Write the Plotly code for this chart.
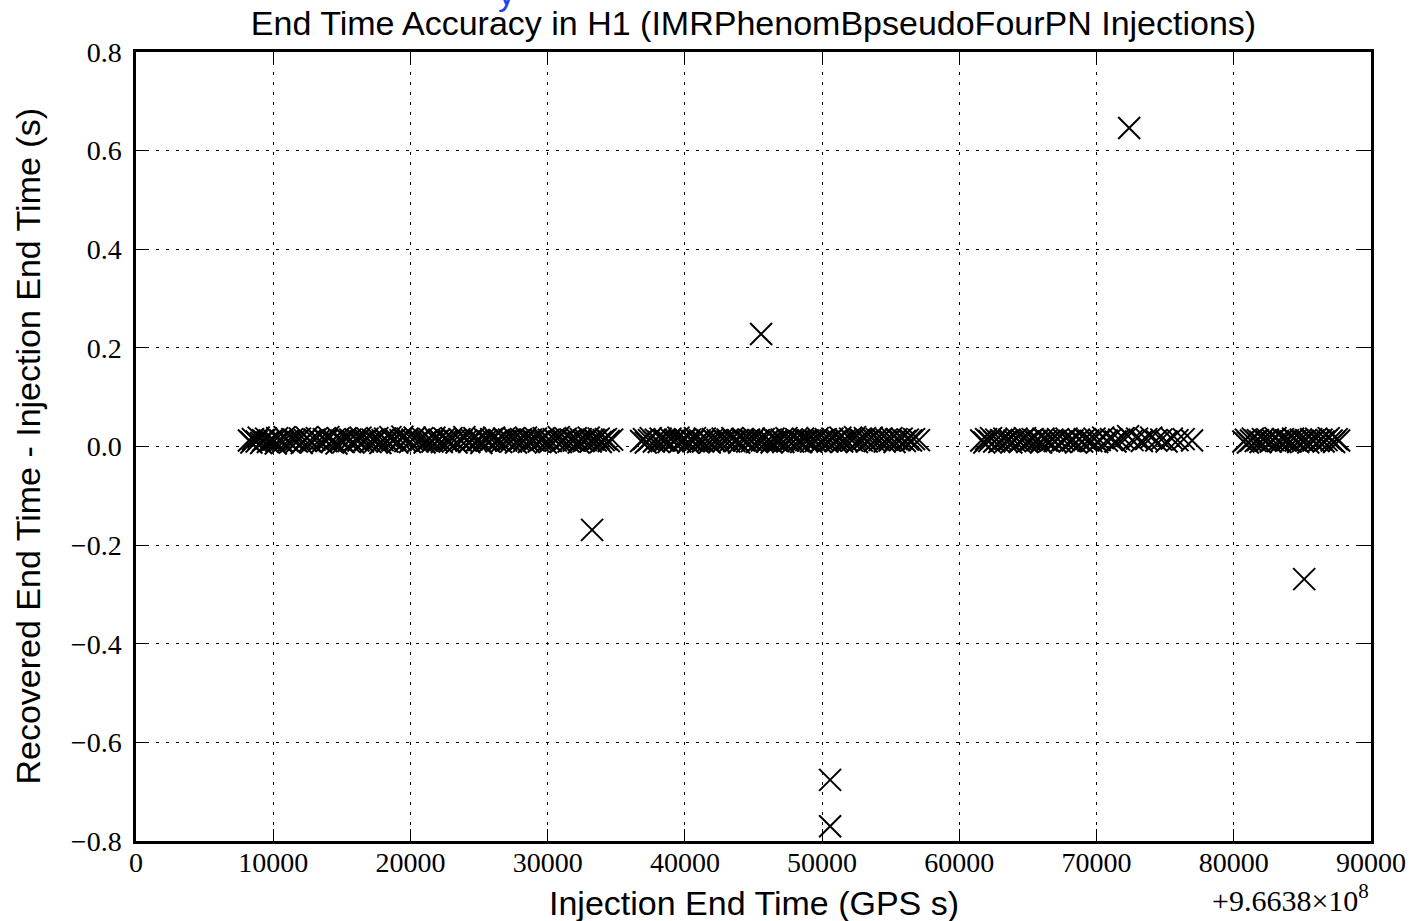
import plotly.graph_objects as go

GPS_OFFSET_LABEL = "+9.6638×10<sup>8</sup>"
TITLE = "End Time Accuracy in H1 (IMRPhenomBpseudoFourPN Injections)"
X_TITLE = "Injection End Time (GPS s)"
Y_TITLE = "Recovered End Time - Injection End Time (s)"

# Band of recovered injections (x in s after 9.6638e8, y = time difference in s)
band1_x = [
    8230, 8410, 8520, 8790, 8940, 9120, 9260, 9480, 9610, 9830,
    9990, 10180, 10290, 10520, 10700, 10830, 11060, 11210, 11390, 11580,
    11720, 11950, 12080, 12310, 12440, 12660, 12790, 13010, 13180, 13340,
    13530, 13690, 13880, 14020, 14250, 14390, 14610, 14740, 14960, 15130,
    15280, 15490, 15620, 15850, 15990, 16210, 16360, 16540, 16730, 16880,
    17090, 17240, 17460, 17590, 17810, 17970, 18150, 18320, 18540, 18690,
    18900, 19040, 19270, 19410, 19630, 19780, 19960, 20150, 20310, 20520,
    20680, 20870, 21030, 21240, 21380, 21600, 21750, 21940, 22110, 22290,
    22480, 22630, 22850, 22990, 23200, 23360, 23570, 23720, 23930, 24080,
    24290, 24440, 24660, 24800, 25020, 25170, 25380, 25530, 25740, 25890,
    26100, 26250, 26460, 26610, 26820, 26970, 27180, 27330, 27540, 27690,
    27900, 28060, 28270, 28420, 28630, 28780, 28990, 29140, 29350, 29510,
    29720, 29870, 30080, 30230, 30440, 30600, 30810, 30960, 31170, 31320,
    31530, 31690, 31900, 32050, 32260, 32410, 32620, 32780, 32990, 33140,
    33350, 33510, 33720, 33870, 34080, 34240, 34450, 34700,
]
band1_y = [
    0.012, 0.008, 0.015, 0.010, 0.018, 0.007, 0.013, 0.016, 0.009, 0.011,
    0.014, 0.006, 0.017, 0.012, 0.009, 0.019, 0.011, 0.008, 0.015, 0.013,
    0.010, 0.016, 0.007, 0.013, 0.018, 0.011, 0.009, 0.014, 0.017, 0.012,
    0.008, 0.015, 0.011, 0.019, 0.010, 0.013, 0.006, 0.016, 0.012, 0.009,
    0.017, 0.011, 0.014, 0.008, 0.015, 0.012, 0.018, 0.010, 0.013, 0.016,
    0.009, 0.014, 0.011, 0.017, 0.007, 0.013, 0.016, 0.010, 0.019, 0.012,
    0.015, 0.008, 0.013, 0.020, 0.011, 0.016, 0.009, 0.014, 0.018, 0.010,
    0.013, 0.017, 0.008, 0.012, 0.015, 0.010, 0.018, 0.011, 0.014, 0.009,
    0.016, 0.012, 0.010, 0.017, 0.013, 0.008, 0.015, 0.011, 0.019, 0.012,
    0.009, 0.014, 0.017, 0.011, 0.013, 0.007, 0.016, 0.012, 0.010, 0.015,
    0.018, 0.011, 0.013, 0.009, 0.016, 0.012, 0.014, 0.010, 0.017, 0.008,
    0.013, 0.015, 0.011, 0.018, 0.009, 0.014, 0.012, 0.016, 0.010, 0.013,
    0.017, 0.008, 0.014, 0.011, 0.015, 0.012, 0.019, 0.009, 0.013, 0.016,
    0.010, 0.014, 0.012, 0.017, 0.008, 0.015, 0.011, 0.013, 0.018, 0.010,
    0.014, 0.012, 0.016, 0.009, 0.013, 0.015, 0.011, 0.014,
]

band2_x = [
    36810, 37020, 37150, 37380, 37510, 37740, 37880, 38090, 38230, 38460,
    38590, 38810, 38950, 39170, 39300, 39530, 39660, 39890, 40020, 40240,
    40380, 40600, 40740, 40960, 41090, 41320, 41450, 41680, 41810, 42030,
    42170, 42390, 42520, 42750, 42880, 43110, 43240, 43460, 43600, 43820,
    43950, 44180, 44310, 44540, 44670, 44890, 45030, 45250, 45390, 45610,
    45740, 45970, 46100, 46320, 46460, 46680, 46820, 47040, 47170, 47400,
    47530, 47760, 47890, 48110, 48250, 48470, 48610, 48830, 48960, 49190,
    49320, 49540, 49680, 49900, 50040, 50260, 50390, 50620, 50750, 50970,
    51110, 51330, 51460, 51690, 51820, 52040, 52180, 52400, 52540, 52760,
    52890, 53120, 53250, 53480, 53610, 53830, 53970, 54190, 54330, 54560,
    54690, 54920, 55050, 55280, 55420, 55650, 55800, 56030, 56250, 56480,
    56700, 57060,
]
band2_y = [
    0.011, 0.015, 0.008, 0.013, 0.017, 0.010, 0.014, 0.009, 0.016, 0.012,
    0.013, 0.009, 0.016, 0.011, 0.014, 0.018, 0.010, 0.012, 0.015, 0.008,
    0.014, 0.011, 0.017, 0.009, 0.013, 0.010, 0.016, 0.012, 0.008, 0.015,
    0.011, 0.013, 0.009, 0.016, 0.012, 0.014, 0.010, 0.017, 0.011, 0.013,
    0.008, 0.015, 0.012, 0.010, 0.014, 0.011, 0.016, 0.009, 0.013, 0.012,
    0.015, 0.010, 0.013, 0.008, 0.016, 0.012, 0.011, 0.014, 0.009, 0.017,
    0.012, 0.014, 0.010, 0.015, 0.011, 0.009, 0.016, 0.013, 0.012, 0.010,
    0.014, 0.011, 0.017, 0.009, 0.013, 0.015, 0.010, 0.012, 0.016, 0.011,
    0.013, 0.018, 0.010, 0.014, 0.011, 0.016, 0.012, 0.019, 0.009, 0.015,
    0.012, 0.017, 0.010, 0.014, 0.018, 0.011, 0.015, 0.013, 0.016, 0.010,
    0.014, 0.012, 0.017, 0.009, 0.015, 0.013, 0.016, 0.011, 0.014, 0.012,
    0.015, 0.013,
]

band3_x = [
    61600, 61820, 61950, 62180, 62310, 62540, 62690, 62910, 63050, 63280,
    63420, 63650, 63790, 64020, 64170, 64400, 64560, 64790, 64950, 65180,
    65340, 65570, 65730, 65960, 66130, 66360, 66540, 66780, 66950, 67190,
    67380, 67620, 67810, 68050, 68250, 68500, 68700, 68950, 69150, 69400,
    69620, 69850, 70050, 70230, 70480, 70750, 71050, 71380, 71650, 71960,
    72300, 72620, 72950, 73300, 73620, 73980, 74350, 74720, 75100, 75480,
    75900, 76350, 76960,
]
band3_y = [
    0.012, 0.008, 0.015, 0.011, 0.017, 0.010, 0.014, 0.009, 0.013, 0.016,
    0.011, 0.014, 0.008, 0.012, 0.016, 0.010, 0.013, 0.017, 0.009, 0.012,
    0.015, 0.011, 0.013, 0.008, 0.016, 0.012, 0.010, 0.014, 0.011, 0.015,
    0.009, 0.013, 0.016, 0.011, 0.012, 0.008, 0.014, 0.010, 0.015, 0.012,
    0.011, 0.016, 0.009, 0.013, 0.018, 0.012, 0.015, 0.010, 0.014, 0.017,
    0.021, 0.013, 0.016, 0.011, 0.015, 0.018, 0.012, 0.014, 0.010, 0.016,
    0.013, 0.015, 0.012,
]

band4_x = [
    80700, 80880, 81030, 81250, 81390, 81600, 81760, 81950, 82120, 82330,
    82480, 82690, 82850, 83040, 83220, 83410, 83580, 83790, 83950, 84140,
    84320, 84510, 84690, 84880, 85050, 85260, 85430, 85640, 85800, 86010,
    86180, 86390, 86550, 86760, 86920, 87130, 87310, 87500, 87680,
]
band4_y = [
    0.010, 0.014, 0.008, 0.012, 0.016, 0.011, 0.013, 0.009, 0.015, 0.012,
    0.014, 0.010, 0.013, 0.017, 0.011, 0.009, 0.015, 0.012, 0.013, 0.010,
    0.016, 0.012, 0.009, 0.014, 0.011, 0.013, 0.008, 0.015, 0.012, 0.016,
    0.011, 0.014, 0.010, 0.013, 0.017, 0.012, 0.009, 0.015, 0.012,
]

outlier_x = [33236, 45554, 50583, 50583, 72376, 85131]
outlier_y = [-0.169, 0.228, -0.676, -0.770, 0.646, -0.269]

x_ticks = [0, 10000, 20000, 30000, 40000, 50000, 60000, 70000, 80000, 90000]
y_ticks = [-0.8, -0.6, -0.4, -0.2, 0.0, 0.2, 0.4, 0.6, 0.8]
y_tick_text = ["\u22120.8", "\u22120.6", "\u22120.4", "\u22120.2", "0.0", "0.2", "0.4", "0.6", "0.8"]

all_x = band1_x + band2_x + band3_x + band4_x + outlier_x
all_y = band1_y + band2_y + band3_y + band4_y + outlier_y

fig = go.Figure()
fig.add_trace(go.Scatter(
    x=all_x, y=all_y, mode="markers",
    marker=dict(symbol="x-thin", size=22, color="black",
                line=dict(width=2, color="black")),
    showlegend=False, hoverinfo="skip",
))

serif = "Liberation Serif"
sans = "Liberation Sans"

axis_common = dict(
    showline=True, linecolor="black", linewidth=2.5, mirror="allticks",
    ticks="inside", ticklen=12, tickwidth=1, tickcolor="black",
    showgrid=True, gridcolor="black", gridwidth=1, griddash="3px,7px",
    zeroline=False, automargin=False,
    tickfont=dict(family=serif, size=28, color="black"),
)

L, R, T, B = 136, 41, 52, 80
W, H = 1412, 921
plot_h = H - T - B
plot_w = W - L - R

fig.update_layout(
    width=W, height=H,
    margin=dict(l=L, r=R, t=T, b=B),
    paper_bgcolor="white", plot_bgcolor="white",
    title=dict(text=TITLE,
               x=(L + W - R) / 2 / W, xanchor="center", y=1 - 23 / H, yanchor="middle",
               font=dict(family=sans, size=34, color="black")),
    xaxis=dict(range=[0, 90000], tickvals=x_ticks, ticktext=[str(v) for v in x_ticks],
               ticklabelstandoff=-5, **axis_common),
    yaxis=dict(range=[-0.8, 0.8], tickvals=y_ticks, ticktext=y_tick_text,
               ticklabelstandoff=6, **axis_common),
    annotations=[
        dict(text=X_TITLE, xref="paper", yref="paper", x=0.5, y=-(903 - (H - B)) / plot_h,
             xanchor="center", yanchor="middle", showarrow=False,
             font=dict(family=sans, size=34, color="black")),
        dict(text=Y_TITLE, xref="paper", yref="paper", x=(27 - L) / plot_w, y=0.5,
             xanchor="center", yanchor="middle", textangle=-90, showarrow=False,
             font=dict(family=sans, size=34, color="black")),
        dict(text=GPS_OFFSET_LABEL, xref="paper", yref="paper", x=1.0, y=-0.045,
             xanchor="right", yanchor="top", showarrow=False,
             font=dict(family=serif, size=30, color="black")),
        dict(text="y", xref="paper", yref="paper", x=0.3, y=1.048,
             xanchor="center", yanchor="bottom", showarrow=False,
             font=dict(family=sans, size=34, color="#1f3fff")),
    ],
)

fig.write_html("out.html")
